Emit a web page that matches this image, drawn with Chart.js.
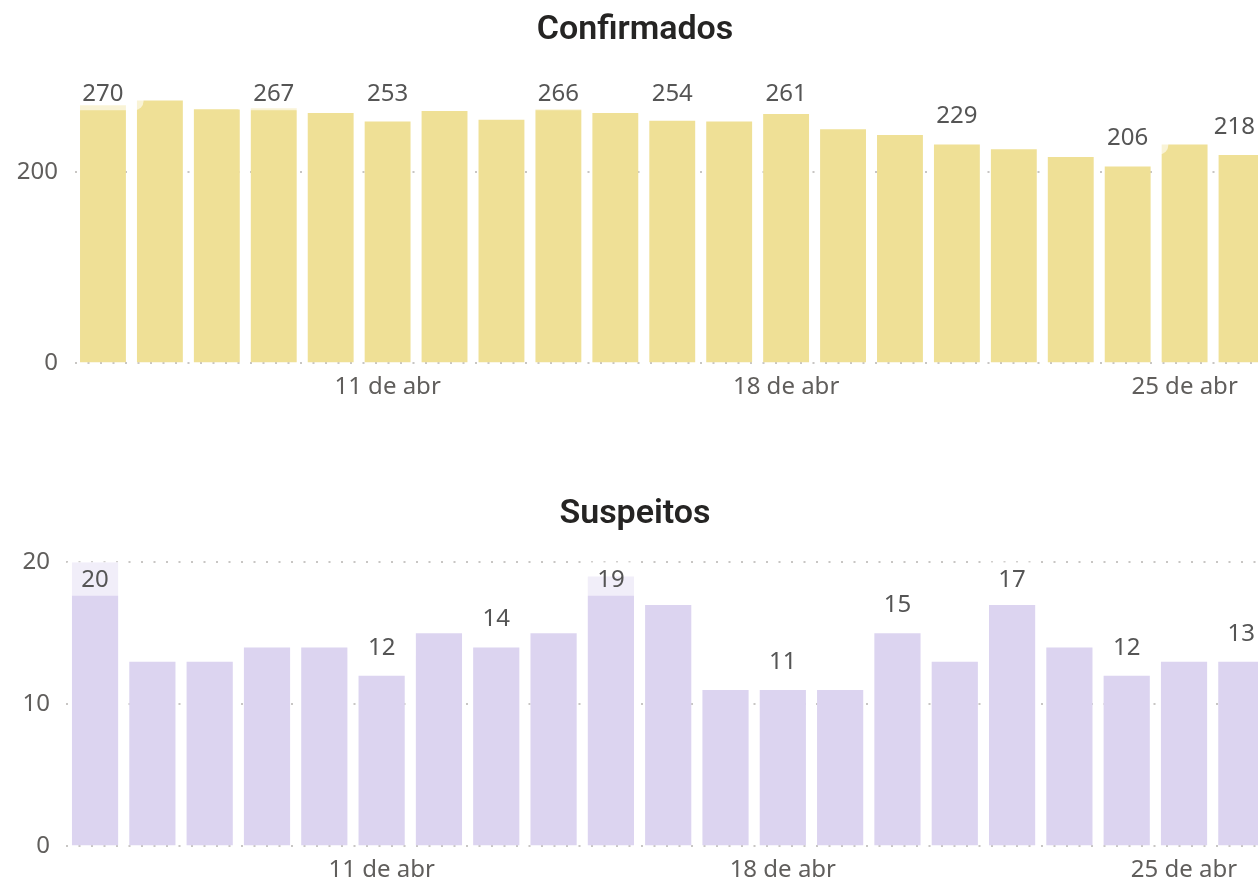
<!DOCTYPE html>
<html lang="pt-BR">
<head>
<meta charset="utf-8">
<title>Confirmados e Suspeitos</title>
<script src="https://cdn.jsdelivr.net/npm/chart.js@4.4.1/dist/chart.umd.min.js"></script>
<style>
  html, body { margin: 0; padding: 0; background: #fff; overflow: hidden; }
  .panel { position: absolute; left: 0; width: 1271px; }
  #top { top: 0; height: 412px; }
  #bottom { top: 460px; height: 435px; }
</style>
</head>
<body>
<div class="panel" id="top"><canvas id="confirmados"></canvas></div>
<div class="panel" id="bottom"><canvas id="suspeitos"></canvas></div>
<script>
// dias de abril
const days = [6, 7, 8, 9, 10, 11, 12, 13, 14, 15, 16, 17, 18, 19, 20, 21, 22, 23, 24, 25, 26];
const weekTicks = [11, 18, 25];

const confirmados = [270, 275, 266, 267, 262, 253, 264, 255, 266, 262, 254, 253, 261, 245, 239, 229, 224, 216, 206, 229, 218];
const suspeitos = [20, 13, 13, 14, 14, 12, 15, 14, 15, 19, 17, 11, 11, 11, 15, 13, 17, 14, 12, 13, 13];

// barras que levam rótulo de valor
const confirmadosShown = [0, 3, 5, 8, 10, 12, 15, 18, 20];
const suspeitosShown = [0, 5, 7, 9, 12, 14, 16, 18, 20];

const labelFont = "24px 'Noto Sans', sans-serif";

Chart.defaults.font.family = "'Noto Sans', sans-serif";
Chart.defaults.color = '#605E5C';

// rótulos de valor com fundo branco translúcido, mantidos dentro da janela
const valueLabels = {
    id: 'valueLabels',
    afterDatasetsDraw(chart, args, opts) {
        const { ctx, chartArea } = chart;
        const bars = chart.getDatasetMeta(0).data;
        const values = chart.data.datasets[0].data;
        const visibleRight = Math.min(chart.width, window.innerWidth) - 3;
        ctx.save();
        ctx.font = labelFont;
        ctx.textAlign = 'center';
        ctx.textBaseline = 'middle';
        opts.shown.forEach(i => {
            const bar = bars[i];
            const text = String(values[i]);
            const w = ctx.measureText(text).width;
            const cx = Math.min(bar.x, visibleRight - w / 2);
            const cy = Math.max(bar.y - 29, chartArea.top + 16.5);
            const half = w / 2 + 20;
            ctx.fillStyle = 'rgba(255,255,255,0.6)';
            ctx.beginPath();
            ctx.roundRect(cx - half, cy - 17, half * 2, 34, 9);
            ctx.fill();
            ctx.fillStyle = '#555555';
            ctx.fillText(text, cx, cy + 1);
        });
        ctx.restore();
    }
};

function makeChart(id, title, values, color, shown, yMax, yStep, axisWidth, titlePadding) {
    return new Chart(document.getElementById(id), {
        type: 'bar',
        data: {
            labels: days,
            datasets: [{
                data: values,
                backgroundColor: color,
                categoryPercentage: 1,
                barPercentage: 0.806,
            }],
        },
        plugins: [valueLabels],
        options: {
            responsive: true,
            maintainAspectRatio: false,
            animation: false,
            layout: { padding: { right: 1 } },
            plugins: {
                legend: { display: false },
                tooltip: { enabled: false },
                title: {
                    display: true,
                    text: title,
                    color: '#252423',
                    font: { family: 'Roboto', size: 34, weight: '600' },
                    padding: titlePadding,
                },
                valueLabels: { shown: shown },
            },
            scales: {
                x: {
                    grid: { display: false, drawTicks: false },
                    border: { display: false },
                    ticks: {
                        autoSkip: false,
                        maxRotation: 0,
                        padding: 10,
                        font: { size: 24 },
                        callback: function (value, index) {
                            const day = days[index];
                            return weekTicks.includes(day) ? day + ' de abr' : '';
                        },
                    },
                },
                y: {
                    min: 0,
                    max: yMax,
                    border: { display: false, dash: [2, 10.5] },
                    grid: { color: '#C8C6C4', lineWidth: 2, drawTicks: false },
                    ticks: { stepSize: yStep, padding: 16.5, font: { size: 24 } },
                    afterBuildTicks: function (scale) {
                        scale.ticks = scale.ticks.filter(t => t.value % yStep === 0);
                    },
                    afterFit: function (scale) {
                        scale.width = axisWidth;
                    },
                },
            },
        },
    });
}

makeChart('confirmados', 'Confirmados', confirmados, 'rgb(239,224,150)', confirmadosShown,
    300, 200, 74.5, { top: 10.3, bottom: 25.6 });
makeChart('suspeitos', 'Suspeitos', suspeitos, 'rgb(220,212,240)', suspeitosShown,
    20, 10, 66.4, { top: 34.3, bottom: 27.2 });
</script>
</body>
</html>
